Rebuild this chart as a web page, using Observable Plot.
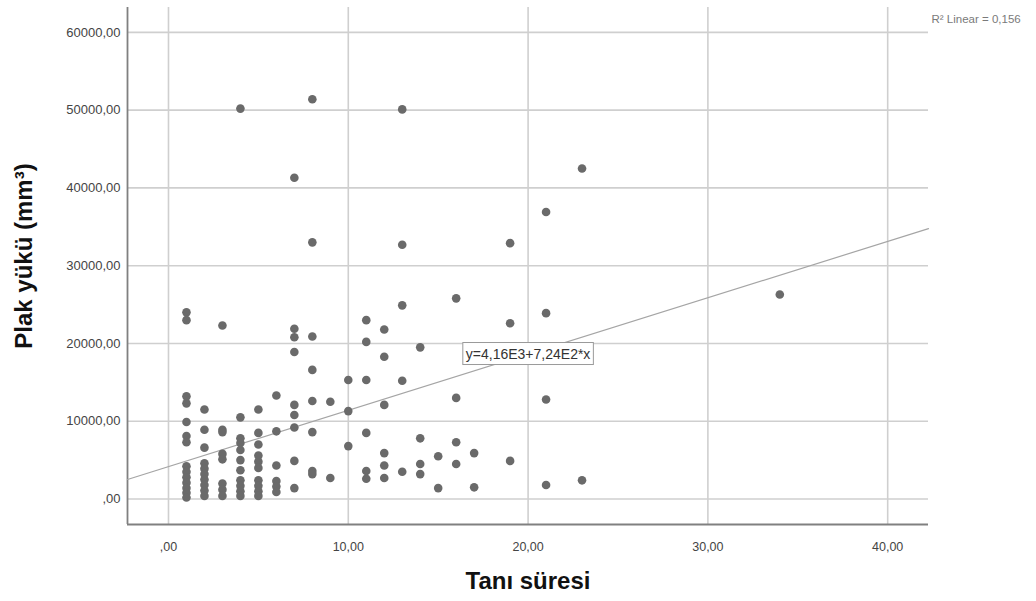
<!DOCTYPE html>
<html><head><meta charset="utf-8">
<script src="https://cdn.jsdelivr.net/npm/d3@7"></script>
<script src="https://cdn.jsdelivr.net/npm/@observablehq/plot@0.6"></script>
<style>
html,body{margin:0;padding:0;background:#fff;}
#chart{width:1036px;height:601px;}
</style></head><body><div id="chart"></div>
<script>
// Tanı süresi (years) and the Plak yükü (mm³) values observed at each duration
const durations = [1, 2, 3, 4, 5, 6, 7, 8, 9, 10, 11, 12, 13, 14, 15, 16, 17, 19, 21, 23, 34];
const plaqueByDuration = [
  [24000, 23000, 13200, 12300, 9900, 8100, 7300, 4200, 3500, 2800, 2100, 1400, 800, 200],
  [11500, 8900, 6600, 4600, 3900, 3200, 2500, 1800, 1100, 400],
  [22300, 8900, 8600, 5800, 5100, 2000, 1200, 400],
  [50200, 10500, 7800, 7200, 6300, 5000, 3700, 2400, 1700, 1000, 400],
  [11500, 8500, 7000, 5600, 4800, 4000, 2400, 1700, 1000, 400],
  [13300, 8700, 4300, 2300, 1600, 900],
  [41300, 21900, 20800, 18900, 12100, 10800, 9200, 4900, 1400],
  [51400, 33000, 20900, 16600, 12600, 8600, 3600, 3200],
  [12500, 2700],
  [15300, 11300, 6800],
  [23000, 20200, 15300, 8500, 3600, 2600],
  [21800, 18300, 12100, 5900, 4300, 2700],
  [50100, 32700, 24900, 15200, 3500],
  [19500, 7800, 4500, 3200],
  [5500, 1400],
  [25800, 13000, 7300, 4500],
  [5900, 1500],
  [32900, 22600, 4900],
  [36900, 23900, 12800, 1800],
  [42500, 2400],
  [26300]
];
const xTicks = [0, 10, 20, 30, 40];
const yTicks = [0, 10000, 20000, 30000, 40000, 50000, 60000];
const xDomain = [-2.28, 42.27];
const yDomain = [-3280, 63200];
const intercept = 4160;
const slope = 724;
const eqAt = 20;
const eqLabel = "y=4,16E3+7,24E2*x";
const r2Label = "R² Linear = 0,156";
const xTitle = "Tanı süresi";
const yTitle = "Plak yükü (mm³)";

const points = durations.flatMap((d, i) => plaqueByDuration[i].map(v => ({x: d, y: v})));
const fitLine = xDomain.map(x => ({x, y: intercept + slope * x}));
const fmt = v => v === 0 ? ",00" : v.toFixed(2).replace(".", ",");

const plot = Plot.plot({
  width: 1036,
  height: 601,
  marginLeft: 127,
  marginRight: 108,
  marginTop: 7,
  marginBottom: 77,
  style: {fontFamily: "'Liberation Sans', Arial, sans-serif", fontSize: "13px", background: "#fff", color: "#444"},
  x: {domain: xDomain},
  y: {domain: yDomain},
  marks: [
    Plot.gridX(xTicks, {stroke: "#cfcfcf", strokeOpacity: 1, strokeWidth: 1.6}),
    Plot.gridY(yTicks, {stroke: "#cfcfcf", strokeOpacity: 1, strokeWidth: 1.6}),
    Plot.ruleX([xDomain[0]], {stroke: "#808080", strokeWidth: 1.8}),
    Plot.ruleY([yDomain[0]], {stroke: "#808080", strokeWidth: 1.8}),
    Plot.axisX({ticks: xTicks, tickFormat: fmt, tickSize: 0, tickPadding: 18, label: null, fontSize: 12.5}),
    Plot.axisY({ticks: yTicks, tickFormat: fmt, tickSize: 0, tickPadding: 7, label: null, fontSize: 13}),
    Plot.line(fitLine, {x: "x", y: "y", stroke: "#a5a5a5", strokeWidth: 1.2}),
    Plot.dot(points, {x: "x", y: "y", r: 4.3, fill: "#6a6a6a", stroke: "none"}),
    Plot.text([eqLabel], {x: () => eqAt, y: () => intercept + slope * eqAt, text: d => d, fontSize: 14, fill: "#333", className: "eq-label"}),
    Plot.text([r2Label], {frameAnchor: "top-right", text: d => d, textAnchor: "start", dx: 3, dy: 7, fontSize: 11.5, fill: "#7a7a7a"}),
    Plot.text([xTitle], {frameAnchor: "bottom", text: d => d, dy: 64, fontSize: 24, fontWeight: "bold", fill: "#111"}),
    Plot.text([yTitle], {frameAnchor: "left", text: d => d, rotate: -90, textAnchor: "middle", dx: -103, dy: -10, fontSize: 24, fontWeight: "bold", fill: "#111"})
  ]
});
document.getElementById("chart").appendChild(plot);

// white box with grey border behind the equation label
d3.select(plot).selectAll("g.eq-label text").each(function() {
  const bb = this.getBBox();
  const g = this.parentNode;
  const t = this.getAttribute("transform");
  const rect = document.createElementNS("http://www.w3.org/2000/svg", "rect");
  rect.setAttribute("x", bb.x - 3);
  rect.setAttribute("y", bb.y - 3);
  rect.setAttribute("width", bb.width + 6);
  rect.setAttribute("height", bb.height + 6);
  rect.setAttribute("fill", "#fff");
  rect.setAttribute("stroke", "#9a9a9a");
  rect.setAttribute("stroke-width", "1");
  if (t) rect.setAttribute("transform", t);
  g.insertBefore(rect, this);
});
</script>
</body></html>
